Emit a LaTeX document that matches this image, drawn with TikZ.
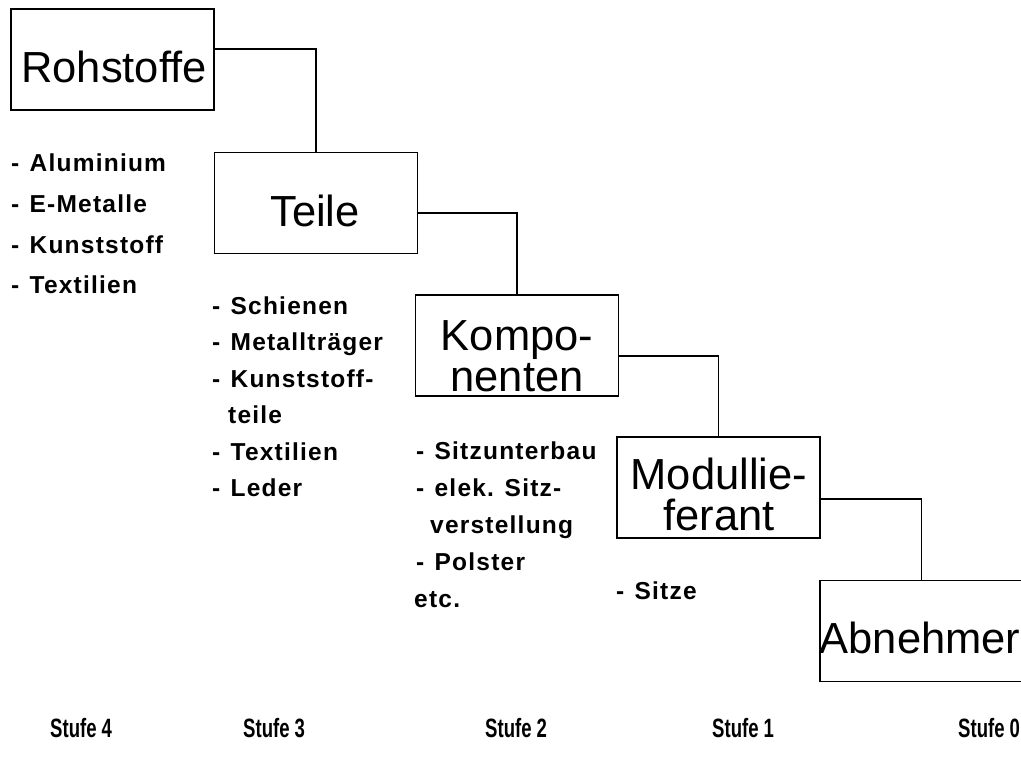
\documentclass[tikz,border=0pt]{standalone}
\usepackage{fontspec}
\setmainfont{Liberation Sans}
\newfontfamily\listfont[LetterSpace=5]{Liberation Sans Bold}
\newfontfamily\stufefont[FakeStretch=0.7]{Liberation Sans Bold}
\usetikzlibrary{calc}

\tikzset{
  stagebox/.style={draw, line width=1.4pt, minimum width=203pt,
    minimum height=101pt, inner sep=0pt},
  boxtext/.style={inner sep=0pt, anchor=base,
    font=\fontsize{43.5}{43.5}\selectfont},
  itemtext/.style={inner sep=0pt, anchor=base west,
    font=\listfont\fontsize{24.5}{24.5}\selectfont},
  stufe/.style={inner sep=0pt, anchor=base west,
    font=\stufefont\fontsize{26.5}{26.5}\selectfont},
  link/.style={line width=1.2pt},
}
\newcommand{\itemdash}{-\hspace{0.42em}}

\begin{document}
\begin{tikzpicture}[x=1pt,y=-1pt]
  \useasboundingbox (0,0) rectangle (1021,765);
  \fill[white] (0,0) rectangle (1021,765);
  \clip (0,0) rectangle (1021,765);

  % the five stages of the supply chain
  \node[stagebox] (roh) at (112.5,59.5) {};
  \node[stagebox] (tei) at (316,203) {};
  \node[stagebox] (kom) at (517,345.5) {};
  \node[stagebox] (mod) at (718.5,487.5) {};
  \node[stagebox] (abn) at (921.5,631) {};

  \node[boxtext] (rohT) at (114,83) {Rohstoffe};
  \node[boxtext] (teiT) at (315,226) {Teile};
  \node[boxtext] (komT1) at (517,350) {Kompo-};
  \node[boxtext] (komT2) at (517,391) {nenten};
  \node[boxtext] (modT1) at (719,489) {Modullie-};
  \node[boxtext] (modT2) at (719,530) {ferant};
  \node[boxtext] (abnT) at (920,653) {Abnehmer};

  % stepped connectors
  \draw[link] ($(roh.east)+(0,-10.5)$) -| (tei.north);
  \draw[link] ($(tei.east)+(0,10)$) -| (kom.north);
  \draw[link] ($(kom.east)+(0,10.5)$) -| (mod.north);
  \draw[link] ($(mod.east)+(0,11.5)$) -| (abn.north);

  % items of each stage
  \node[itemtext] (r1) at (11,172) {\itemdash Aluminium};
  \node[itemtext] (r2) at (11,212.5) {\itemdash E-Metalle};
  \node[itemtext] (r3) at (11,253) {\itemdash Kunststoff};
  \node[itemtext] (r4) at (11,293.5) {\itemdash Textilien};

  \node[itemtext] (t1) at (212,314) {\itemdash Schienen};
  \node[itemtext] (t2) at (212,350.5) {\itemdash Metallträger};
  \node[itemtext] (t3) at (212,387) {\itemdash Kunststoff-};
  \node[itemtext] (t4) at (228,423.5) {teile};
  \node[itemtext] (t5) at (212,460) {\itemdash Textilien};
  \node[itemtext] (t6) at (212,496.5) {\itemdash Leder};

  \node[itemtext] (k1) at (416,459) {\itemdash Sitzunterbau};
  \node[itemtext] (k2) at (416,496) {\itemdash elek. Sitz-};
  \node[itemtext] (k3) at (430,533) {verstellung};
  \node[itemtext] (k4) at (416,570) {\itemdash Polster};
  \node[itemtext] (k5) at (414,607) {etc.};

  \node[itemtext] (m1) at (616,599) {\itemdash Sitze};

  % stage numbers
  \node[stufe] (s4) at (50,737) {Stufe 4};
  \node[stufe] (s3) at (243,737) {Stufe 3};
  \node[stufe] (s2) at (485,737) {Stufe 2};
  \node[stufe] (s1) at (712,737) {Stufe 1};
  \node[stufe] (s0) at (958,737) {Stufe 0};
\end{tikzpicture}
\end{document}
